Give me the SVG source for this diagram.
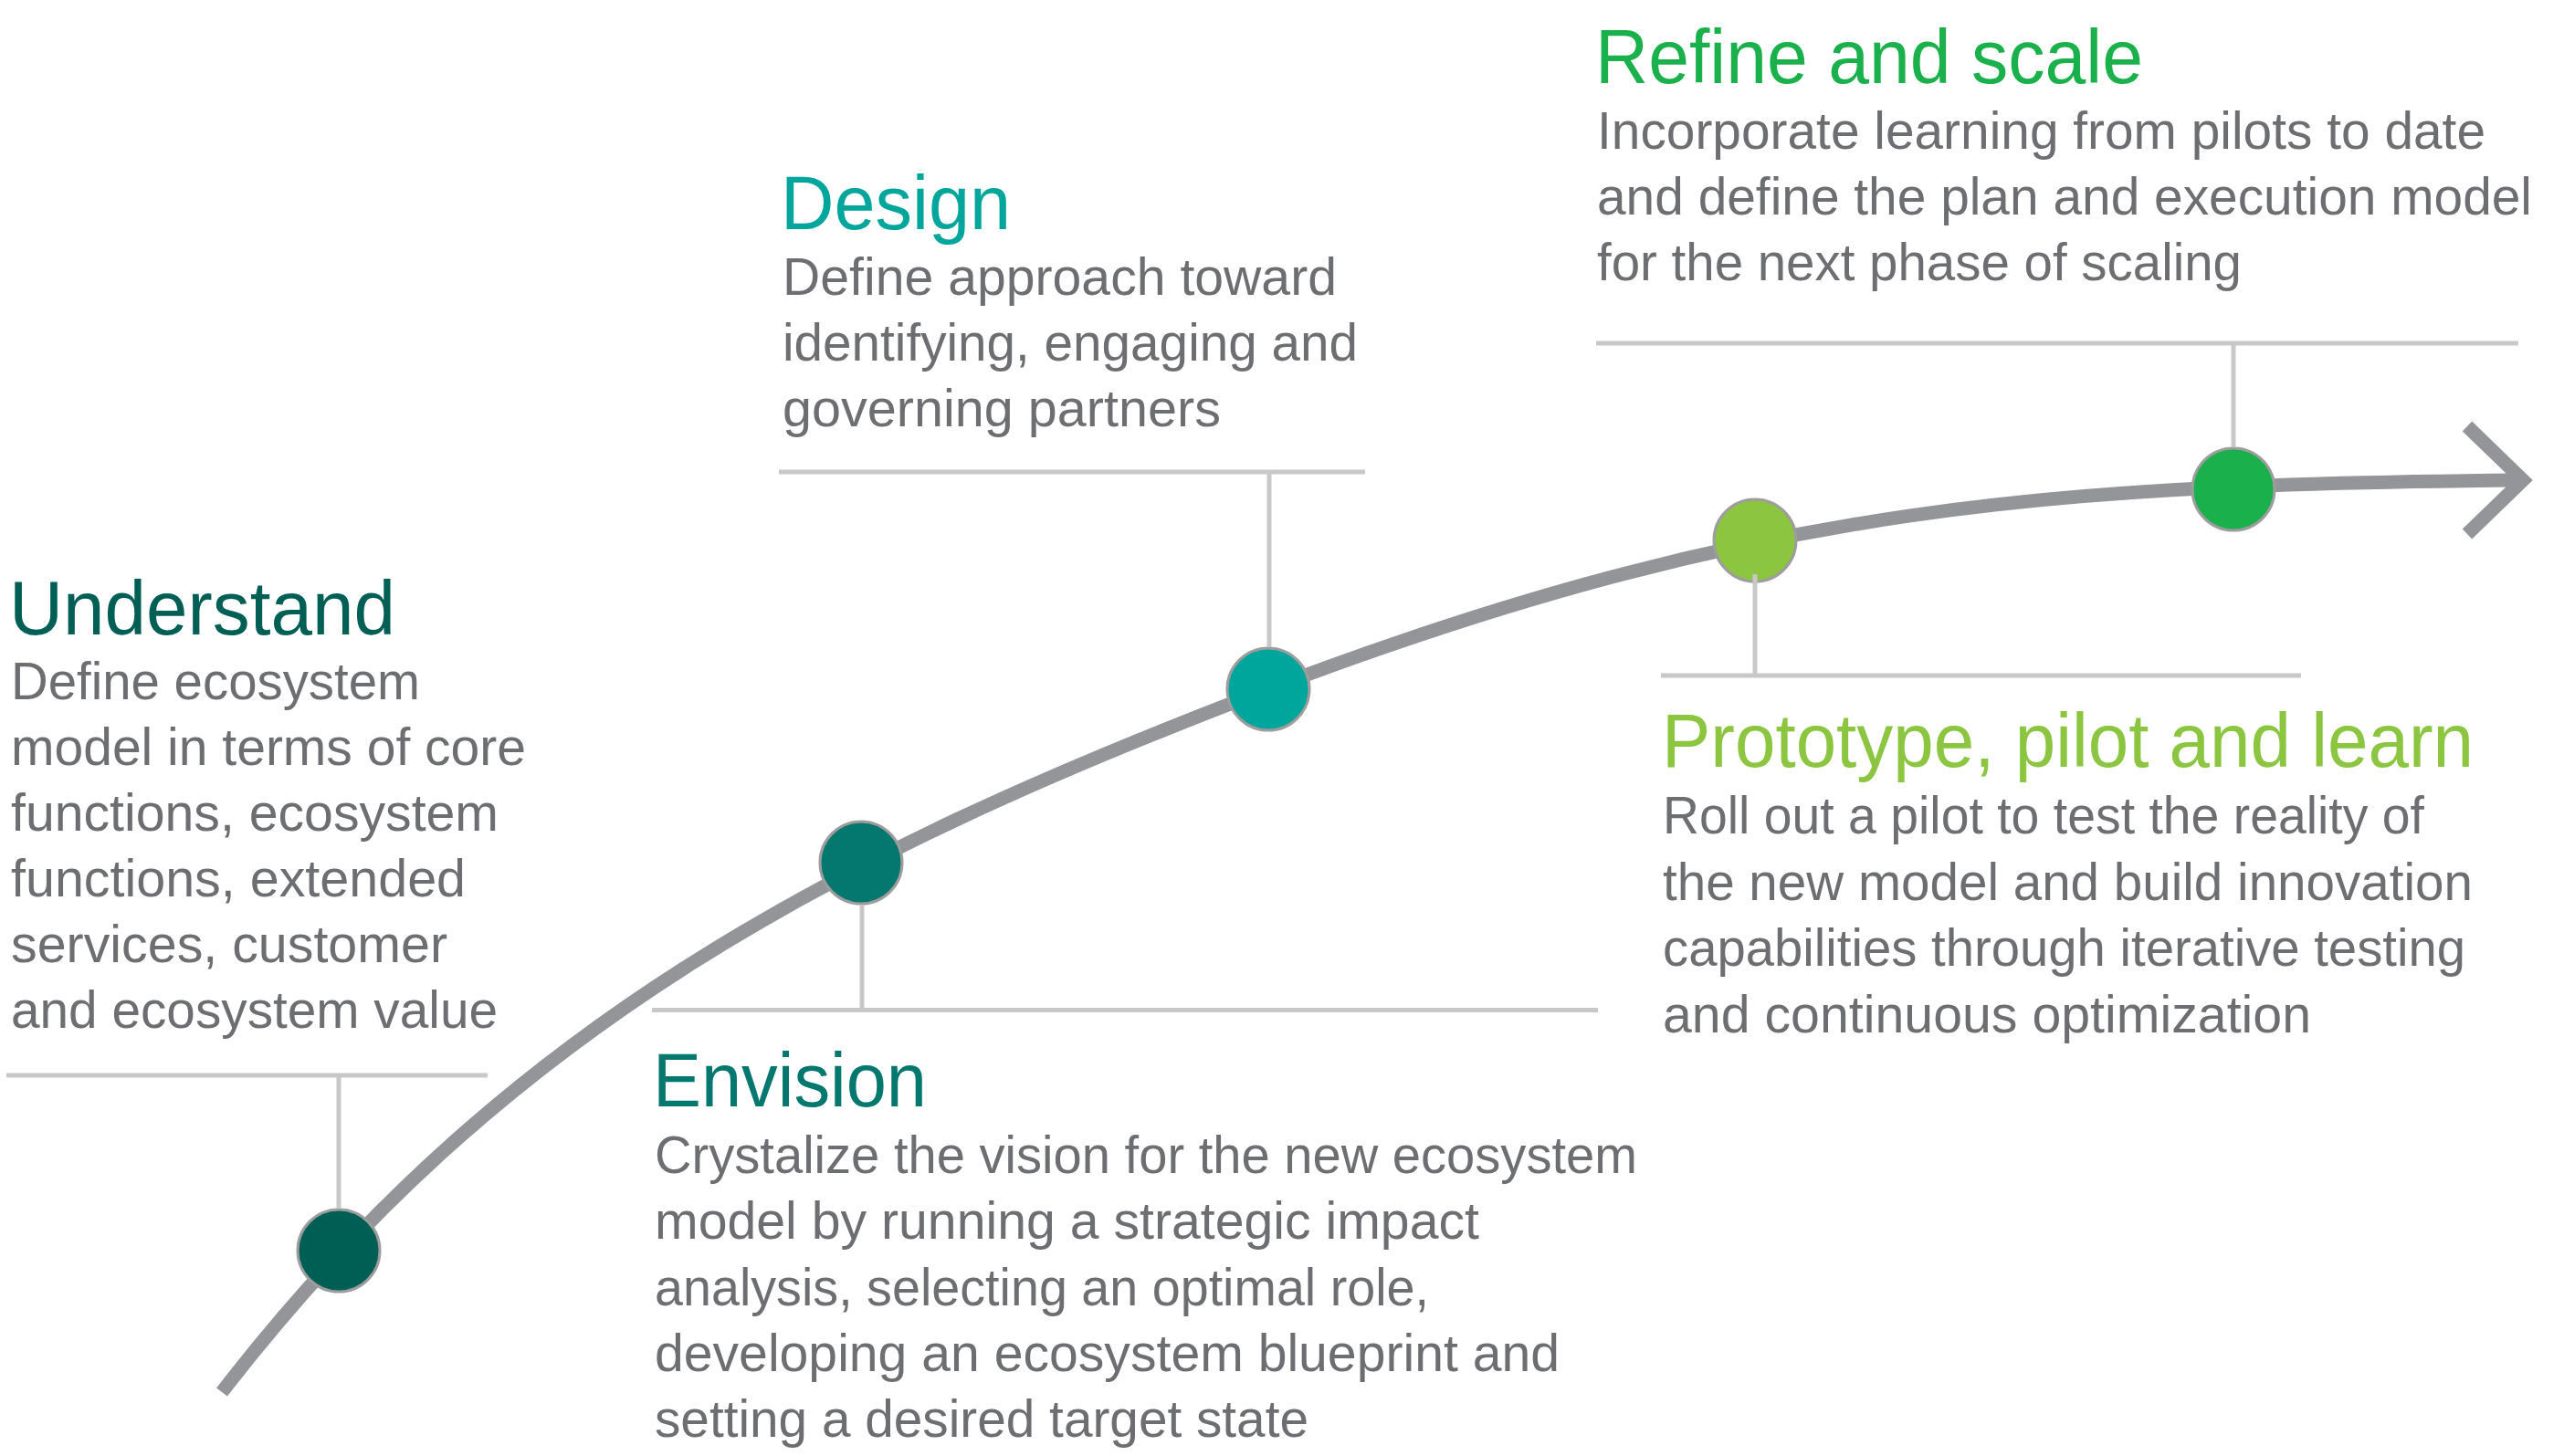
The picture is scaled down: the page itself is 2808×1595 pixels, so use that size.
<svg xmlns="http://www.w3.org/2000/svg" width="2808" height="1595" viewBox="0 0 2808 1595">
<style>
  .title { font-family: "Liberation Sans", Arial, Helvetica, sans-serif; font-size: 84px; }
  .body { font-family: "Liberation Sans", Arial, Helvetica, sans-serif; font-size: 58px; fill: #6d6e71; }
  .dot { stroke: #9d9d9d; stroke-width: 3; }
  .rule { stroke: #c8c8c8; stroke-width: 5; fill: none; }
  .curve { stroke: #939598; stroke-width: 15; fill: none; }
</style>
<rect width="2808" height="1595" fill="#ffffff"/>
<g id="timeline">
  <path class="curve" d="M243,1525 C548,1130 903.8,939.6 1389,755 C1931.3,549.1 2260,531 2760,526"/>
  <polyline class="curve" points="2702,467 2763,526 2702,585" stroke-linejoin="miter" stroke-miterlimit="10"/>
</g>
<g id="understand">
  <circle class="dot" cx="371" cy="1370" r="45" fill="#005f55"/>
  <text class="title" x="10" y="695" fill="#005f55" textLength="423" lengthAdjust="spacingAndGlyphs">Understand</text>
  <text class="body" x="12" y="766" textLength="448" lengthAdjust="spacingAndGlyphs">Define ecosystem</text>
  <text class="body" x="12" y="838" textLength="564" lengthAdjust="spacingAndGlyphs">model in terms of core</text>
  <text class="body" x="12" y="910" textLength="534" lengthAdjust="spacingAndGlyphs">functions, ecosystem</text>
  <text class="body" x="12" y="982" textLength="498" lengthAdjust="spacingAndGlyphs">functions, extended</text>
  <text class="body" x="12" y="1054" textLength="478" lengthAdjust="spacingAndGlyphs">services, customer</text>
  <text class="body" x="12" y="1126" textLength="533" lengthAdjust="spacingAndGlyphs">and ecosystem value</text>
</g>
<g id="envision">
  <circle class="dot" cx="943" cy="945" r="45" fill="#04786f"/>
  <text class="title" x="715" y="1212" fill="#04786f" textLength="300" lengthAdjust="spacingAndGlyphs">Envision</text>
  <text class="body" x="717" y="1285" textLength="1076" lengthAdjust="spacingAndGlyphs">Crystalize the vision for the new ecosystem</text>
  <text class="body" x="717" y="1357" textLength="903" lengthAdjust="spacingAndGlyphs">model by running a strategic impact</text>
  <text class="body" x="717" y="1430" textLength="848" lengthAdjust="spacingAndGlyphs">analysis, selecting an optimal role,</text>
  <text class="body" x="717" y="1502" textLength="991" lengthAdjust="spacingAndGlyphs">developing an ecosystem blueprint and</text>
  <text class="body" x="717" y="1574" textLength="716" lengthAdjust="spacingAndGlyphs">setting a desired target state</text>
</g>
<g id="design">
  <circle class="dot" cx="1389" cy="755" r="45" fill="#00a59b"/>
  <text class="title" x="855" y="251" fill="#00a59b" textLength="252" lengthAdjust="spacingAndGlyphs">Design</text>
  <text class="body" x="857" y="323" textLength="607" lengthAdjust="spacingAndGlyphs">Define approach toward</text>
  <text class="body" x="857" y="395" textLength="630" lengthAdjust="spacingAndGlyphs">identifying, engaging and</text>
  <text class="body" x="857" y="467" textLength="480" lengthAdjust="spacingAndGlyphs">governing partners</text>
</g>
<g id="prototype">
  <circle class="dot" cx="1922" cy="592" r="45" fill="#8cc540"/>
  <text class="title" x="1820" y="840" fill="#8cc540" textLength="889" lengthAdjust="spacingAndGlyphs">Prototype, pilot and learn</text>
  <text class="body" x="1821" y="913" textLength="834" lengthAdjust="spacingAndGlyphs">Roll out a pilot to test the reality of</text>
  <text class="body" x="1821" y="986" textLength="887" lengthAdjust="spacingAndGlyphs">the new model and build innovation</text>
  <text class="body" x="1821" y="1058" textLength="879" lengthAdjust="spacingAndGlyphs">capabilities through iterative testing</text>
  <text class="body" x="1821" y="1131" textLength="710" lengthAdjust="spacingAndGlyphs">and continuous optimization</text>
</g>
<g id="refine">
  <circle class="dot" cx="2446" cy="536" r="45" fill="#1ab04b"/>
  <text class="title" x="1747" y="91" fill="#1ab04b" textLength="600" lengthAdjust="spacingAndGlyphs">Refine and scale</text>
  <text class="body" x="1749" y="163" textLength="973" lengthAdjust="spacingAndGlyphs">Incorporate learning from pilots to date</text>
  <text class="body" x="1749" y="235" textLength="1024" lengthAdjust="spacingAndGlyphs">and define the plan and execution model</text>
  <text class="body" x="1749" y="307" textLength="706" lengthAdjust="spacingAndGlyphs">for the next phase of scaling</text>
</g>
<g id="connectors">
  <line class="rule" x1="7" y1="1178" x2="534" y2="1178"/>
  <line class="rule" x1="371" y1="1178" x2="371" y2="1324"/>
  <line class="rule" x1="714" y1="1106.5" x2="1750" y2="1106.5"/>
  <line class="rule" x1="944" y1="991" x2="944" y2="1106.5"/>
  <line class="rule" x1="853" y1="517" x2="1495" y2="517"/>
  <line class="rule" x1="1390" y1="517" x2="1390" y2="709"/>
  <line class="rule" x1="1819" y1="740" x2="2520" y2="740"/>
  <line class="rule" x1="1922" y1="629" x2="1922" y2="740"/>
  <line class="rule" x1="1748" y1="376" x2="2758" y2="376"/>
  <line class="rule" x1="2446" y1="376" x2="2446" y2="490"/>
</g>
</svg>
